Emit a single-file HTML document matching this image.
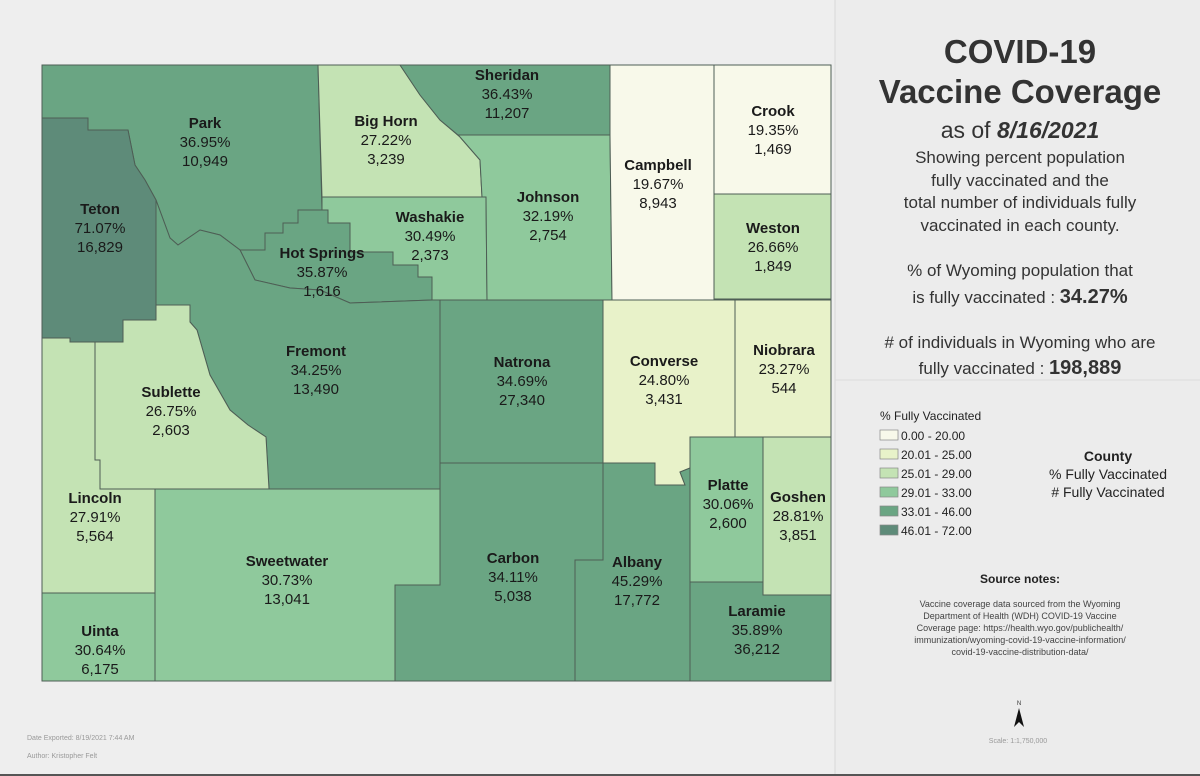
<!DOCTYPE html>
<html><head><meta charset="utf-8">
<style>
html,body{margin:0;padding:0;width:1200px;height:776px;overflow:hidden;background:#ebebeb;font-family:"Liberation Sans",sans-serif;}
svg{display:block}
</style></head>
<body>
<svg id="map" width="1200" height="776" viewBox="0 0 1200 776" xmlns="http://www.w3.org/2000/svg">
  <rect x="0" y="0" width="1200" height="776" fill="#ececec"/>
  <rect x="0" y="0" width="835" height="776" fill="#eeeeee"/>
  <line x1="835" y1="0" x2="835" y2="776" stroke="#d8d8d8" stroke-width="1"/>
  <line x1="835" y1="380" x2="1200" y2="380" stroke="#dcdcdc" stroke-width="1"/>
  <line x1="0" y1="775" x2="1200" y2="775" stroke="#555" stroke-width="2"/>
  <g id="counties"></g>
  <g id="labels"></g>

  <g fill="#333" text-anchor="middle">
    <text x="1020" y="63" font-size="33" font-weight="bold">COVID-19</text>
    <text x="1020" y="103" font-size="33" font-weight="bold">Vaccine Coverage</text>
    <text x="1020" y="138" font-size="23">as of <tspan font-weight="bold" font-style="italic">8/16/2021</tspan></text>
    <text x="1020" y="163" font-size="17">Showing percent population</text>
    <text x="1020" y="186" font-size="17">fully vaccinated and the</text>
    <text x="1020" y="208" font-size="17">total number of individuals fully</text>
    <text x="1020" y="231" font-size="17">vaccinated in each county.</text>
    <text x="1020" y="276" font-size="17">% of Wyoming population that</text>
    <text x="1020" y="303" font-size="17">is fully vaccinated : <tspan font-weight="bold" font-size="20">34.27%</tspan></text>
    <text x="1020" y="348" font-size="17"># of individuals in Wyoming who are</text>
    <text x="1020" y="374" font-size="17">fully vaccinated : <tspan font-weight="bold" font-size="20">198,889</tspan></text>
  </g>

  <g id="legend">
    <text x="880" y="420" font-size="12" fill="#222">% Fully Vaccinated</text>
  </g>
  <g text-anchor="middle" fill="#222">
    <text x="1108" y="461" font-size="14" font-weight="bold">County</text>
    <text x="1108" y="479" font-size="14">% Fully Vaccinated</text>
    <text x="1108" y="497" font-size="14"># Fully Vaccinated</text>
  </g>
  <g text-anchor="middle">
    <text x="1020" y="583" font-size="12" font-weight="bold" fill="#222">Source notes:</text>
    <text x="1020" y="607" font-size="9" fill="#444">Vaccine coverage data sourced from the Wyoming</text>
    <text x="1020" y="619" font-size="9" fill="#444">Department of Health (WDH) COVID-19 Vaccine</text>
    <text x="1020" y="631" font-size="9" fill="#444">Coverage page: https://health.wyo.gov/publichealth/</text>
    <text x="1020" y="643" font-size="9" fill="#444">immunization/wyoming-covid-19-vaccine-information/</text>
    <text x="1020" y="655" font-size="9" fill="#444">covid-19-vaccine-distribution-data/</text>
  </g>
  <g>
    <text x="1019" y="705" font-size="6" text-anchor="middle" fill="#333">N</text>
    <polygon points="1019,708 1014,727 1019,722 1024,727" fill="#111"/>
  </g>
  <text x="1018" y="743" font-size="7" text-anchor="middle" fill="#999">Scale: 1:1,750,000</text>
  <text x="27" y="740" font-size="7" fill="#999">Date Exported: 8/19/2021 7:44 AM</text>
  <text x="27" y="758" font-size="7" fill="#999">Author: Kristopher Felt</text>
</svg>
<script>
const classColors = ["#f8f9ea","#e8f2c9","#c4e3b4","#8fc99c","#6aa583","#5e8b79"];
const classLabels = ["0.00 - 20.00","20.01 - 25.00","25.01 - 29.00","29.01 - 33.00","33.01 - 46.00","46.01 - 72.00"];
const classBreaks = [20,25,29,33,46,72];
const countyNames = ["Park","Teton","Big Horn","Sheridan","Washakie","Hot Springs","Johnson","Campbell","Crook","Weston","Fremont","Sublette","Lincoln","Uinta","Sweetwater","Natrona","Converse","Niobrara","Carbon","Albany","Platte","Goshen","Laramie"];
const countyPct = [36.95,71.07,27.22,36.43,30.49,35.87,32.19,19.67,19.35,26.66,34.25,26.75,27.91,30.64,30.73,34.69,24.80,23.27,34.11,45.29,30.06,28.81,35.89];
const countyCount = [10949,16829,3239,11207,2373,1616,2754,8943,1469,1849,13490,2603,5564,6175,13041,27340,3431,544,5038,17772,2600,3851,36212];
// geometry (not data)
const shapes = {
"Park":"42,65 318,65 322,210 298,210 298,223 283,223 283,233 265,233 265,250 240,250 220,235 200,230 178,245 170,238 156,200 145,180 135,165 128,130 88,130 88,118 42,118",
"Teton":"42,118 88,118 88,130 128,130 135,165 145,180 156,200 156,320 123,320 123,342 70,342 70,338 42,338",
"Big Horn":"318,65 400,65 420,95 440,120 460,137 480,160 482,197 322,197",
"Sheridan":"400,65 610,65 610,135 458,135 440,120 420,95",
"Washakie":"322,197 486,197 487,300 432,300 432,277 418,277 418,265 393,265 393,252 350,252 350,223 328,223 328,210 322,210",
"Hot Springs":"240,250 265,250 265,233 283,233 283,223 298,223 298,210 328,210 328,223 350,223 350,252 393,252 393,265 418,265 418,277 432,277 432,300 350,303 320,290 290,288 255,280",
"Johnson":"458,135 610,135 612,300 487,300 486,197 482,197 480,160 460,137",
"Campbell":"610,65 714,65 714,300 612,300 610,135",
"Crook":"714,65 831,65 831,194 714,194",
"Weston":"714,194 831,194 831,299 714,299",
"Fremont":"156,200 170,238 178,245 200,230 220,235 240,250 255,280 290,288 320,290 350,303 432,300 440,300 440,490 269,489 266,437 248,425 230,410 210,375 197,330 190,322 190,305 156,305",
"Sublette":"123,342 123,320 156,320 156,305 190,305 190,322 197,330 210,375 230,410 248,425 266,437 269,489 100,489 100,460 95,460 95,342",
"Lincoln":"42,338 70,338 70,342 95,342 95,460 100,460 100,489 155,489 155,593 42,593",
"Uinta":"42,593 155,593 155,681 42,681",
"Sweetwater":"155,489 440,489 440,585 395,585 395,681 155,681",
"Natrona":"440,300 603,300 603,463 440,463",
"Converse":"603,300 735,300 735,437 690,437 690,468 680,472 685,485 655,485 655,463 603,463",
"Niobrara":"735,300 831,300 831,437 735,437",
"Carbon":"440,463 603,463 603,560 575,560 575,681 395,681 395,585 440,585",
"Albany":"603,463 655,463 655,485 685,485 680,472 690,468 690,681 575,681 575,560 603,560",
"Platte":"690,437 763,437 763,582 690,582",
"Goshen":"763,437 831,437 831,595 763,595",
"Laramie":"690,582 763,582 763,595 831,595 831,681 690,681"
};
const labelPos = {"Park":[205,128],"Teton":[100,214],"Big Horn":[386,126],"Sheridan":[507,80],"Washakie":[430,222],"Hot Springs":[322,258],"Johnson":[548,202],"Campbell":[658,170],"Crook":[773,116],"Weston":[773,233],"Fremont":[316,356],"Sublette":[171,397],"Lincoln":[95,503],"Uinta":[100,636],"Sweetwater":[287,566],"Natrona":[522,367],"Converse":[664,366],"Niobrara":[784,355],"Carbon":[513,563],"Albany":[637,567],"Platte":[728,490],"Goshen":[798,502],"Laramie":[757,616]};
const NS="http://www.w3.org/2000/svg";
function classOf(v){for(let i=0;i<classBreaks.length;i++){if(v<=classBreaks[i])return i;}return classBreaks.length-1;}
function fmt(n){return n.toLocaleString("en-US");}
const gC=document.getElementById("counties"), gL=document.getElementById("labels");
countyNames.forEach((name,i)=>{
  const p=document.createElementNS(NS,"polygon");
  p.setAttribute("points",shapes[name]);
  p.setAttribute("fill",classColors[classOf(countyPct[i])]);
  p.setAttribute("stroke","#4e5e55");
  p.setAttribute("stroke-width","1");
  
  
  gC.appendChild(p);
  const [x,y]=labelPos[name];
  const t=document.createElementNS(NS,"text");
  t.setAttribute("x",x);t.setAttribute("y",y);
  t.setAttribute("text-anchor","middle");t.setAttribute("fill","#1a1a1a");t.setAttribute("font-size","15");
  
  
  const lines=[[name,"bold"],[countyPct[i].toFixed(2)+"%","normal"],[fmt(countyCount[i]),"normal"]];
  lines.forEach((l,k)=>{const s=document.createElementNS(NS,"tspan");s.setAttribute("x",x);s.setAttribute("dy",k?"19":"0");s.setAttribute("font-weight",l[1]);s.textContent=l[0];t.appendChild(s);});
  gL.appendChild(t);
});
const gLeg=document.getElementById("legend");
classLabels.forEach((lab,i)=>{
  const y=430+i*19;
  const r=document.createElementNS(NS,"rect");
  r.setAttribute("x",880);r.setAttribute("y",y);r.setAttribute("width",18);r.setAttribute("height",10);
  r.setAttribute("fill",classColors[i]);r.setAttribute("stroke","#888");r.setAttribute("stroke-width","0.7");
  
  
  gLeg.appendChild(r);
  const t=document.createElementNS(NS,"text");
  t.setAttribute("x",901);t.setAttribute("y",y+10);t.setAttribute("font-size","12");t.setAttribute("fill","#222");
  t.textContent=lab;
  
  
  gLeg.appendChild(t);
});
</script>
</body></html>
